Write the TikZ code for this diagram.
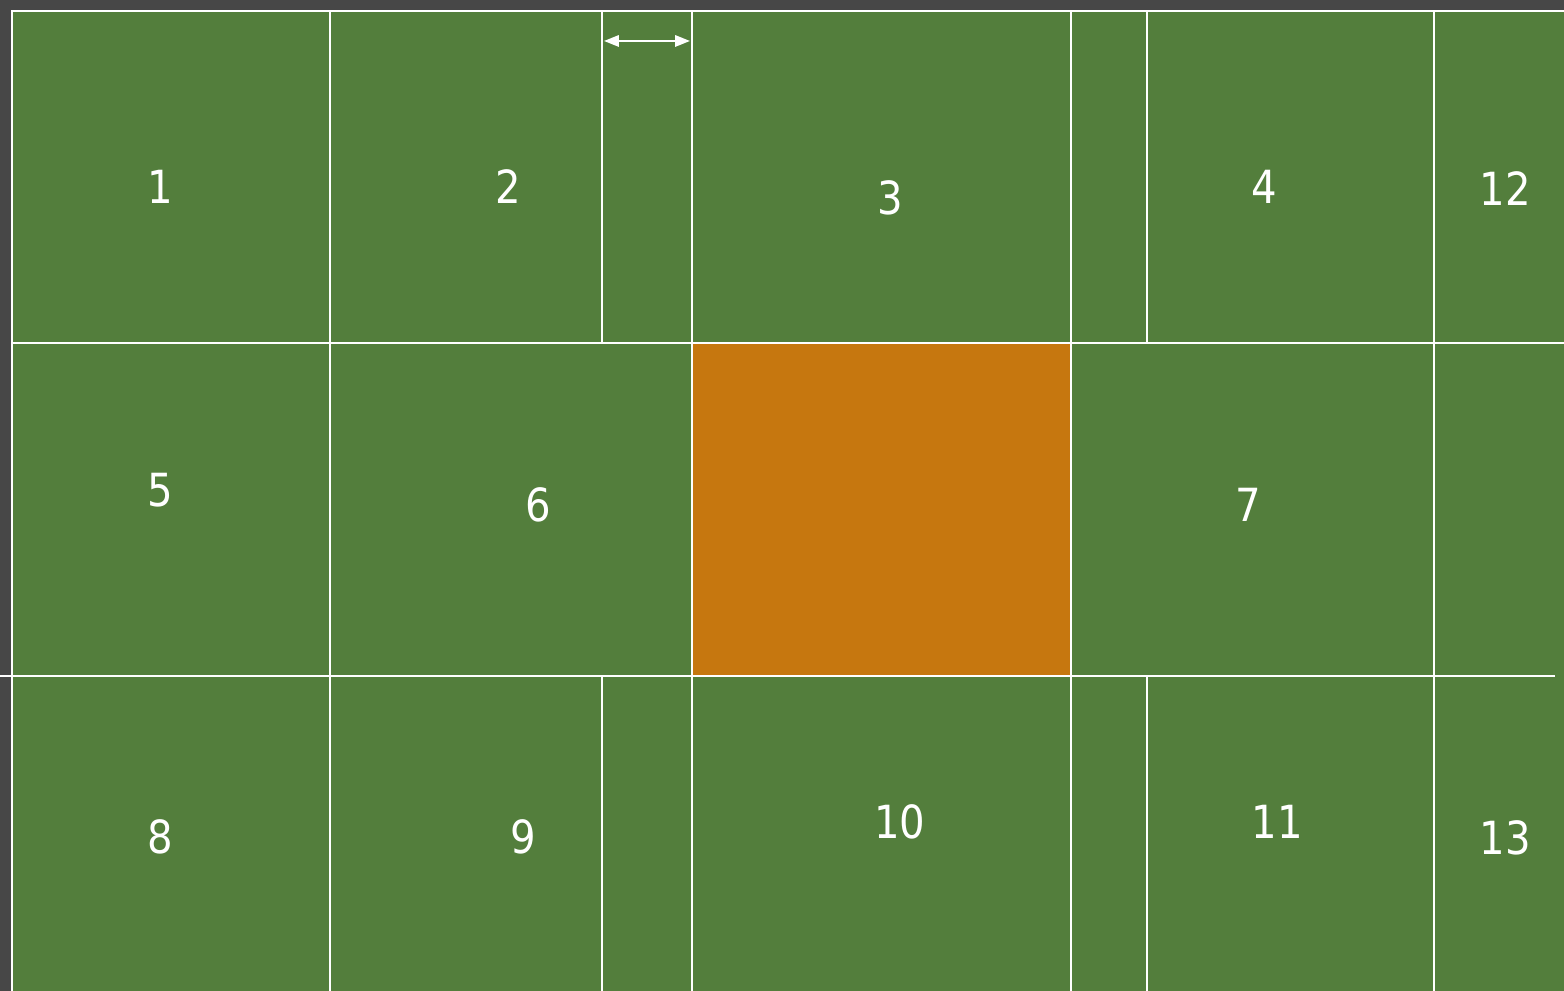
\documentclass[tikz,border=0pt]{standalone}
\usepackage{fontspec}
\usetikzlibrary{arrows.meta}
\newfontfamily\cellfont[FakeStretch=0.88]{DejaVu Sans}
\definecolor{slate}{HTML}{474747}
\definecolor{fieldgreen}{HTML}{537E3C}
\definecolor{hotorange}{HTML}{C6770F}

\begin{document}
\begin{tikzpicture}[
    >={Triangle[length=4.2pt, width=3.2pt]},
    grid/.style={draw=white, line width=0.6pt},
    num/.style={text=white, inner sep=0pt, font=\cellfont\fontsize{13}{15}\selectfont},
    gap/.style={<->, draw=white, line width=0.6pt},
]

\useasboundingbox (0,0) rectangle (15.64,9.91);
\fill[slate] (0,0) rectangle (15.64,9.91);
\fill[fieldgreen] (0.12,0) rectangle (15.64,9.80);
\fill[hotorange] (6.92,3.15) rectangle (10.71,6.48);

% grid
\draw[grid] (0.12,0) -- (0.12,9.80) -- (15.64,9.80);
\draw[grid] (0.12,6.48) -- (15.64,6.48);
\draw[grid] (0,3.15) -- (15.55,3.15);
\foreach \x in {3.30, 6.92, 10.71, 14.34}
    \draw[grid] (\x,0) -- (\x,9.80);
\foreach \x in {6.02, 11.47} {
    \draw[grid] (\x,6.48) -- (\x,9.80);
    \draw[grid] (\x,0) -- (\x,3.15);
}

% spacing marker
\coordinate (gapL) at (6.04,9.50);
\coordinate (gapR) at (6.90,9.50);
\draw[gap] (gapL) -- (gapR);

% cell numbers
\node[num] (c1)  at (1.60,8.04)  {1};
\node[num] (c2)  at (5.08,8.04)  {2};
\node[num] (c3)  at (8.90,7.93)  {3};
\node[num] (c4)  at (12.64,8.04) {4};
\node[num] (c12) at (15.05,8.02) {12};
\node[num] (c5)  at (1.60,5.01)  {5};
\node[num] (c6)  at (5.38,4.86)  {6};
\node[num] (c7)  at (12.48,4.86) {7};
\node[num] (c8)  at (1.60,1.54)  {8};
\node[num] (c9)  at (5.23,1.54)  {9};
\node[num] (c10) at (9.00,1.69)  {10};
\node[num] (c11) at (12.77,1.69) {11};
\node[num] (c13) at (15.05,1.53) {13};

\end{tikzpicture}
\end{document}
